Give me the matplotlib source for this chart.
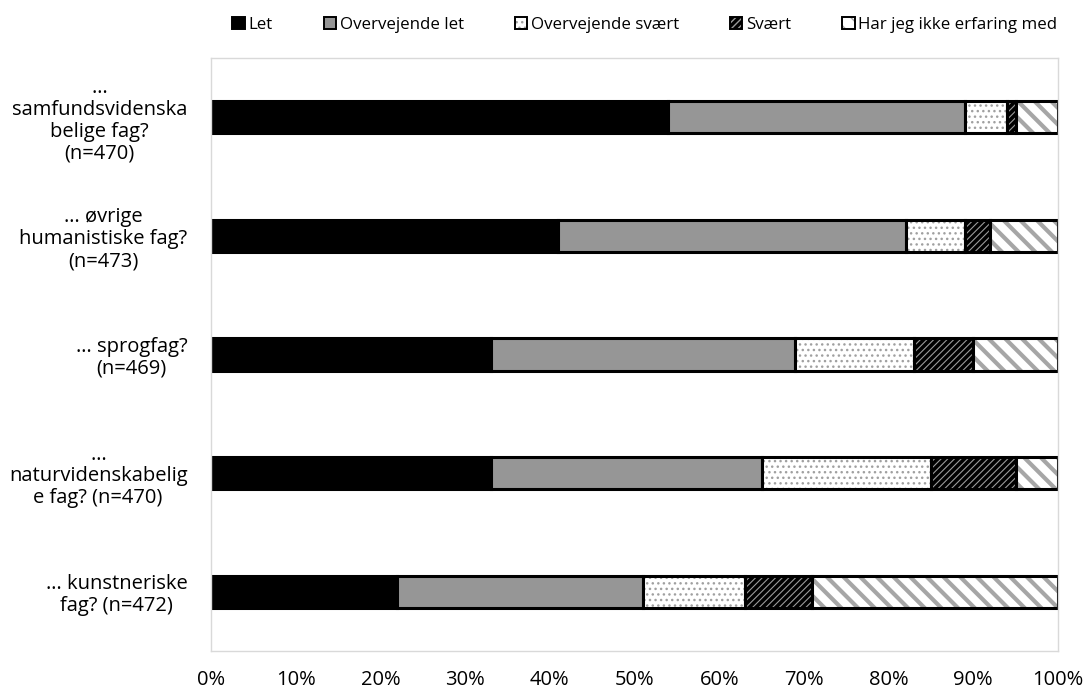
import numpy as np
import matplotlib
matplotlib.use("Agg")
import matplotlib.pyplot as plt
from matplotlib.patches import Patch

plt.rcParams['font.family'] = ['Open Sans', 'DejaVu Sans']

categories = [
    "…\nsamfundsvidenska\nbelige fag?\n(n=470)",
    "… øvrige\nhumanistiske fag?\n(n=473)",
    "… sprogfag?\n(n=469)",
    "…\nnaturvidenskabelig\ne fag? (n=470)",
    "… kunstneriske\nfag? (n=472)",
]
series = ["Let", "Overvejende let", "Overvejende svært", "Svært", "Har jeg ikke erfaring med"]
let = [54, 41, 33, 33, 22]
overvejende_let = [35, 41, 36, 32, 29]
overvejende_svaert = [5, 7, 14, 20, 12]
svaert = [1, 3, 7, 10, 8]
ingen_erfaring = [5, 8, 10, 5, 29]
xticks = np.arange(0, 101, 10)

values = [let, overvejende_let, overvejende_svaert, svaert, ingen_erfaring]
# face colour, hatch, hatch colour
styles = [
    ("#000000", None, "#000000"),
    ("#969696", None, "#969696"),
    ("#ffffff", "...", "#a0a0a0"),
    ("#000000", "/////", "#9a9a9a"),
    ("#ffffff", "\\\\", "#a6a6a6"),
]
hatch_widths = [1.0, 1.0, 1.0, 0.8, 3.0]

fig = plt.figure(figsize=(10.89, 6.89), dpi=100)
ax = fig.add_axes([0.1938, 0.0552, 0.7777, 0.8606])

y = np.arange(len(categories))
left = np.zeros(len(categories))
h = 0.27
for vals, (fc, hatch, hc), hw in zip(values, styles, hatch_widths):
    with plt.rc_context({'hatch.linewidth': hw}):
        ax.barh(y, vals, left=left, height=h, color=fc, edgecolor=hc,
                hatch=hatch, linewidth=0)
    ax.barh(y, vals, left=left, height=h, facecolor='none',
            edgecolor='black', linewidth=2.2)
    left += np.array(vals)

ax.set_xlim(0, 100)
ax.set_ylim(len(categories) - 0.5, -0.5)
ax.set_xticks(xticks)
ax.set_xticklabels([f"{v}%" for v in xticks], fontsize=14.5)
ax.set_yticks(y)
ax.set_yticklabels(categories, fontsize=14.5, ha='right', multialignment='center',
                   linespacing=1.12)
ax.tick_params(axis='both', length=0)
ax.tick_params(axis='x', pad=14)
ax.tick_params(axis='y', pad=17)
for s in ax.spines.values():
    s.set_color('#d9d9d9')
    s.set_linewidth(1.0)

# legend keys: hatch drawn in grey, then a black outline on top
handles = []
for name, (fc, hatch, hc) in zip(series, styles):
    fill = Patch(facecolor=fc, edgecolor=hc, hatch=hatch, linewidth=0)
    outline = Patch(facecolor='none', edgecolor='black', linewidth=1.4)
    handles.append((fill, outline))
fig.legend(handles=handles, labels=series, loc='upper center',
           bbox_to_anchor=(0.592, 0.998), ncol=5, frameon=False, fontsize=12.2,
           handlelength=0.75, handleheight=0.75, handletextpad=0.2, columnspacing=3.0)

fig.savefig("out.png", dpi=100)
